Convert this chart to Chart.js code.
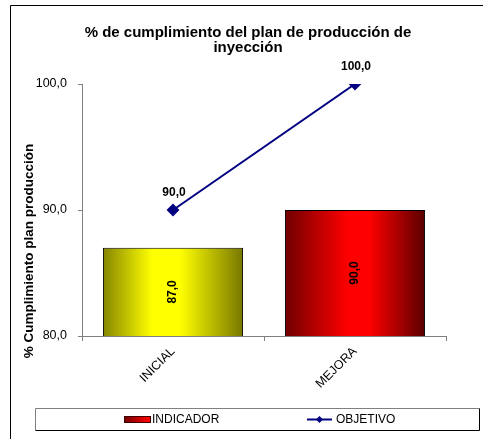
<!DOCTYPE html>
<html>
<head>
<meta charset="utf-8">
<script src="https://cdn.jsdelivr.net/npm/chart.js@4/dist/chart.umd.min.js"></script>
<style>
  html, body { margin: 0; padding: 0; background: #fff; }
</style>
</head>
<body>
<canvas id="myChart" width="483" height="439"></canvas>
<script>
// chart data
var categories = ["INICIAL", "MEJORA"];
var indicador = [87.0, 90.0];
var objetivo = [90.0, 100.0];
var yTicks = [80, 90, 100];
var seriesNames = ["INDICADOR", "OBJETIVO"];
var titleLines = ["% de cumplimiento del plan de producción de", "inyección"];
var yTitle = "% Cumplimiento plan producción";

var FONT = "Arial, 'Liberation Sans', sans-serif";
var NAVY = "#000080";

function fmt(v) {
  return v.toFixed(1).replace(".", ",");
}

// horizontal shading like the excel bars
function barGradient(ctx) {
  var chart = ctx.chart;
  if (!chart.chartArea) return "#ffff00";
  var xs = chart.scales.x;
  var cx = xs.getPixelForValue(ctx.dataIndex);
  var half = (xs.width / categories.length) * 0.77 / 2;
  var g = chart.ctx.createLinearGradient(cx - half, 0, cx + half, 0);
  if (ctx.dataIndex == 0) {
    g.addColorStop(0, "#858500");
    g.addColorStop(0.35, "#ffff00");
    g.addColorStop(0.55, "#ffff00");
    g.addColorStop(1, "#777700");
  } else {
    g.addColorStop(0, "#700000");
    g.addColorStop(0.45, "#ff0000");
    g.addColorStop(0.6, "#ff0000");
    g.addColorStop(1, "#5a0000");
  }
  return g;
}

var framePlugin = {
  id: "frame",
  beforeDraw: function(chart) {
    var c = chart.ctx;
    c.save();
    c.fillStyle = "#fff";
    c.fillRect(0, 0, chart.width, chart.height);
    c.strokeStyle = "#000";
    c.lineWidth = 1;
    c.beginPath();
    c.moveTo(10.5, chart.height);
    c.lineTo(10.5, 5.5);
    c.lineTo(chart.width, 5.5);
    c.stroke();
    c.restore();
  },
  afterDraw: function(chart) {
    var c = chart.ctx;
    c.save();
    // y axis title
    c.translate(29, 251);
    c.rotate(-Math.PI / 2);
    c.font = "bold 13.5px " + FONT;
    c.fillStyle = "#000";
    c.textAlign = "center";
    c.textBaseline = "middle";
    c.fillText(yTitle, 0, 0);
    c.restore();

    // legend box
    c.save();
    c.lineWidth = 1;
    c.strokeStyle = "#808080";
    c.beginPath();
    c.moveTo(35.5, 430.5);
    c.lineTo(35.5, 408.5);
    c.lineTo(479.5, 408.5);
    c.stroke();
    c.strokeStyle = "#000";
    c.beginPath();
    c.moveTo(479.5, 408.5);
    c.lineTo(479.5, 430.5);
    c.lineTo(35.5, 430.5);
    c.stroke();

    var g = c.createLinearGradient(124, 0, 151, 0);
    g.addColorStop(0, "#700000");
    g.addColorStop(0.9, "#ff0000");
    g.addColorStop(1, "#ff0000");
    c.fillStyle = g;
    c.fillRect(124, 416, 27, 7);
    c.strokeStyle = "#400000";
    c.strokeRect(124.5, 416.5, 26, 6);

    c.font = "12px " + FONT;
    c.fillStyle = "#000";
    c.textBaseline = "middle";
    c.textAlign = "left";
    c.fillText(seriesNames[0], 152, 420);

    c.strokeStyle = NAVY;
    c.lineWidth = 2;
    c.beginPath();
    c.moveTo(307, 419.5);
    c.lineTo(332, 419.5);
    c.stroke();
    c.fillStyle = NAVY;
    c.beginPath();
    c.moveTo(319.5, 416);
    c.lineTo(323, 419.5);
    c.lineTo(319.5, 423);
    c.lineTo(316, 419.5);
    c.closePath();
    c.fill();
    c.fillStyle = "#000";
    c.fillText(seriesNames[1], 336, 420);
    c.restore();
  }
};

// value labels on the bars and above the line points
var valueLabels = {
  id: "valueLabels",
  afterDatasetsDraw: function(chart) {
    var c = chart.ctx;
    var xs = chart.scales.x;
    var ys = chart.scales.y;
    c.save();
    c.font = "bold 12px " + FONT;
    c.fillStyle = "#000";
    c.textAlign = "center";
    c.textBaseline = "middle";
    for (var i = 0; i < indicador.length; i++) {
      var top = ys.getPixelForValue(indicador[i]);
      var bottom = ys.getPixelForValue(ys.min);
      c.save();
      c.translate(xs.getPixelForValue(i), (top + bottom) / 2);
      c.rotate(-Math.PI / 2);
      c.fillText(fmt(indicador[i]), 0, 0);
      c.restore();
    }
    for (var k = 0; k < objetivo.length; k++) {
      c.fillText(fmt(objetivo[k]), xs.getPixelForValue(k) + 1, ys.getPixelForValue(objetivo[k]) - 17);
    }
    c.restore();
  }
};

var ctx = document.getElementById("myChart").getContext("2d");
var myChart = new Chart(ctx, {
  type: "bar",
  data: {
    labels: categories,
    datasets: [
      {
        label: seriesNames[0],
        data: indicador,
        backgroundColor: barGradient,
        borderColor: "#000",
        borderWidth: 1,
        barPercentage: 0.77,
        categoryPercentage: 1.0,
        order: 2
      },
      {
        type: "line",
        label: seriesNames[1],
        data: objetivo,
        borderColor: NAVY,
        borderWidth: 2,
        pointStyle: "rectRot",
        pointRadius: 5,
        pointBackgroundColor: NAVY,
        pointBorderColor: NAVY,
        fill: false,
        tension: 0,
        order: 1
      }
    ]
  },
  options: {
    responsive: false,
    animation: false,
    layout: { padding: { left: 13, right: 0, top: 0, bottom: 41 } },
    plugins: {
      legend: { display: false },
      tooltip: { enabled: false },
      title: {
        display: true,
        text: titleLines,
        color: "#000",
        font: { family: FONT, size: 15, weight: "bold", lineHeight: 1.0 },
        padding: { top: 25, bottom: 29 }
      }
    },
    scales: {
      x: {
        afterFit: function(s) {
          s.height = 62;
          s.paddingRight = 37;
        },
        ticks: {
          minRotation: 45,
          maxRotation: 45,
          padding: 3,
          color: "#000",
          font: { family: FONT, size: 12.5 }
        },
        grid: {
          offset: true,
          drawOnChartArea: false,
          color: "#808080",
          tickLength: 5
        },
        border: { color: "#808080" }
      },
      y: {
        min: 80,
        max: 100,
        afterFit: function(s) {
          s.width = 69;
        },
        afterBuildTicks: function(s) {
          s.ticks = yTicks.map(function(v) { return { value: v }; });
        },
        ticks: {
          padding: 11,
          color: "#000",
          font: { family: FONT, size: 12.5 },
          callback: function(v) { return fmt(v); }
        },
        grid: {
          drawOnChartArea: false,
          color: "#808080",
          tickLength: 4
        },
        border: { color: "#808080" }
      }
    }
  },
  plugins: [framePlugin, valueLabels]
});
</script>
</body>
</html>
